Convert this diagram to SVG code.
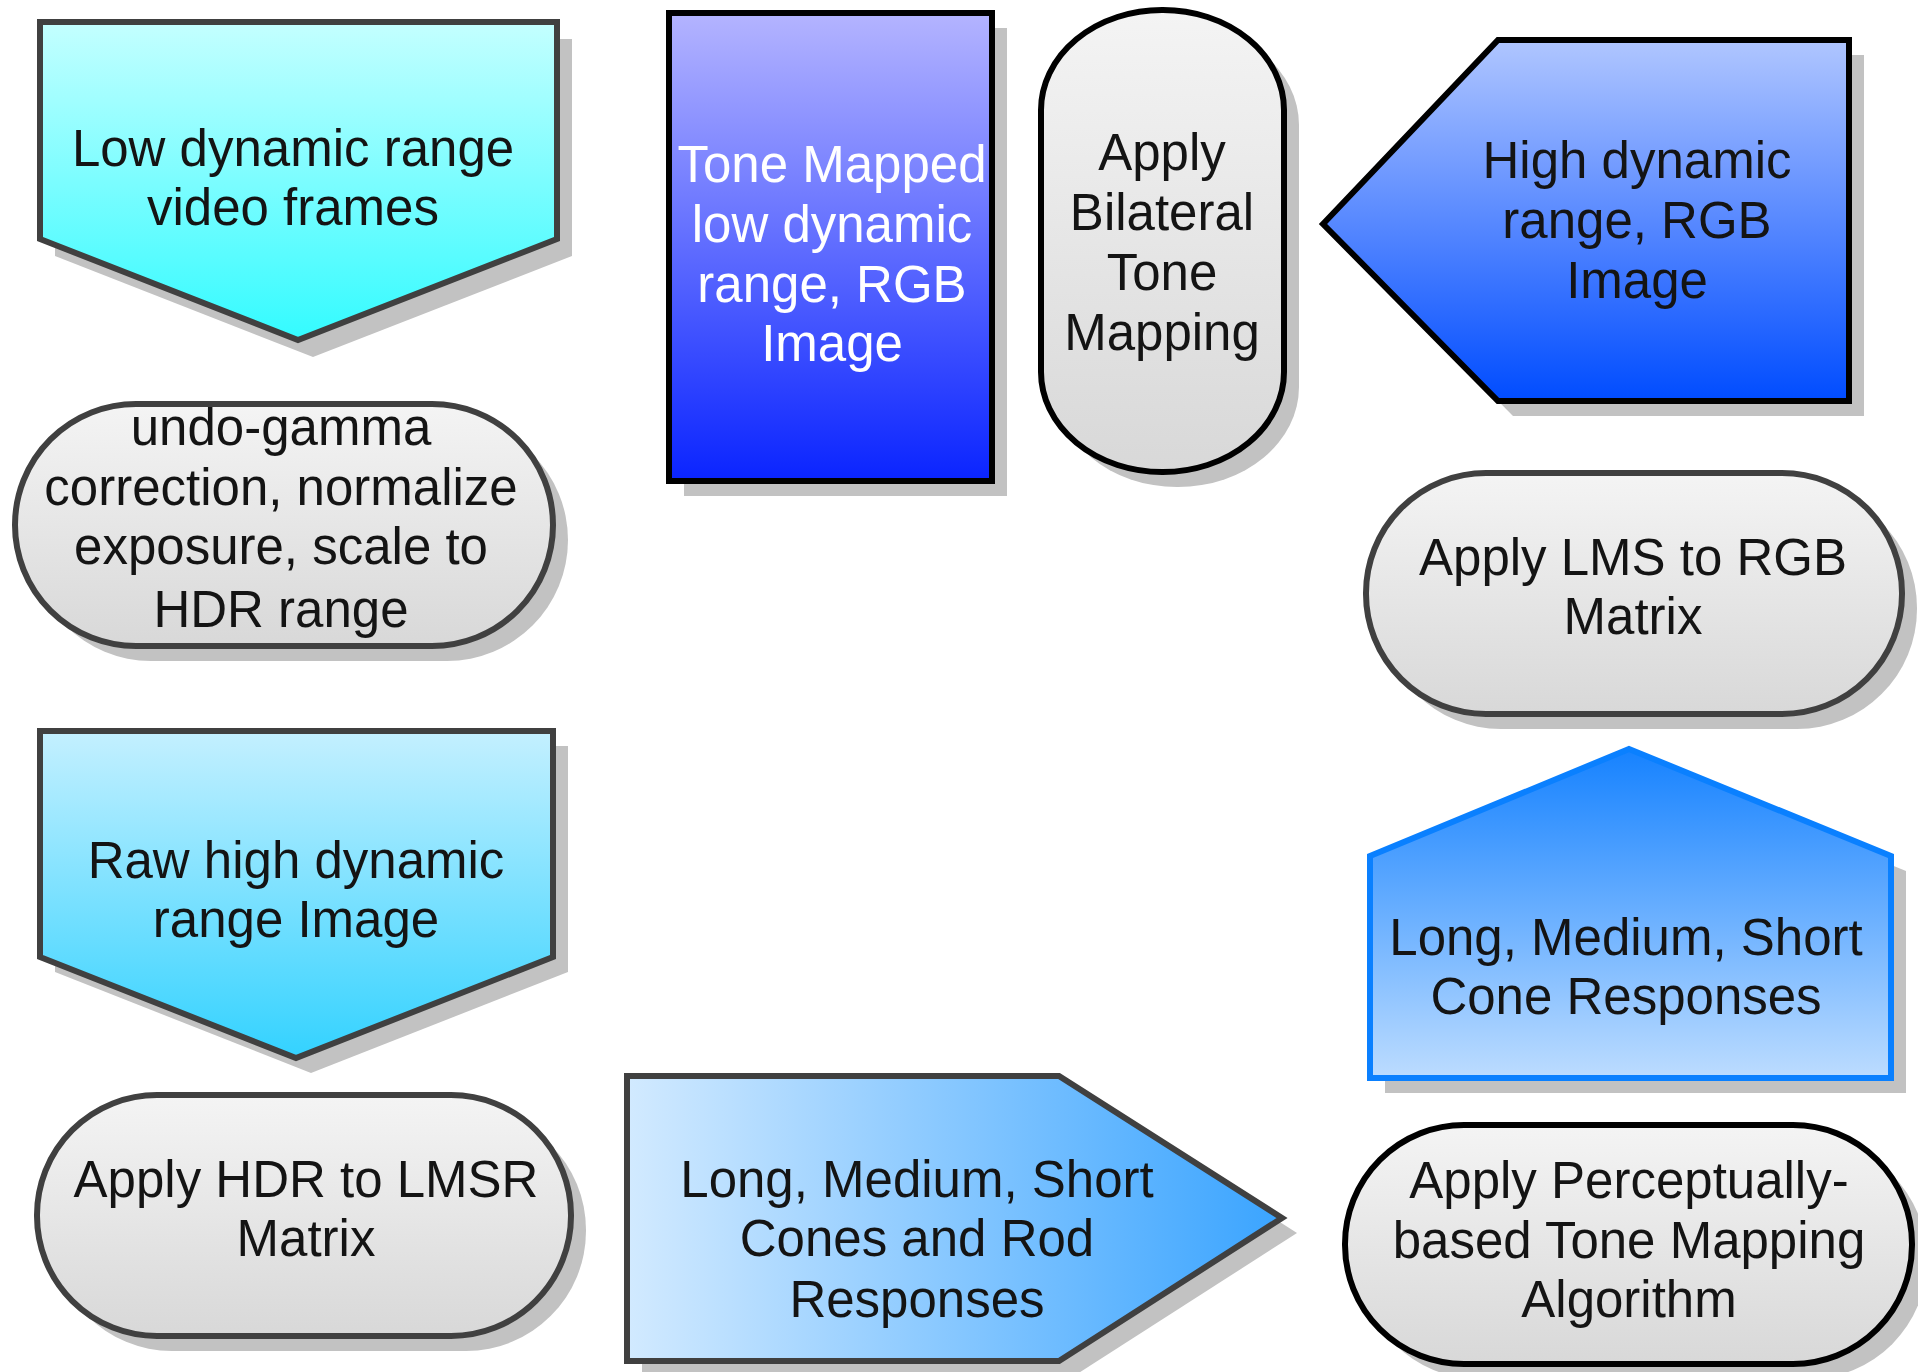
<svg xmlns="http://www.w3.org/2000/svg" width="1918" height="1372" viewBox="0 0 1918 1372">
  <defs>
    <linearGradient id="gCyan" x1="0" y1="0" x2="0" y2="1">
      <stop offset="0" stop-color="#c4ffff"/>
      <stop offset="1" stop-color="#33fbff"/>
    </linearGradient>
    <linearGradient id="gSky" x1="0" y1="0" x2="0" y2="1">
      <stop offset="0" stop-color="#c4f0ff"/>
      <stop offset="1" stop-color="#33d2ff"/>
    </linearGradient>
    <linearGradient id="gViolet" x1="0" y1="0" x2="0" y2="1">
      <stop offset="0" stop-color="#b4b4ff"/>
      <stop offset="1" stop-color="#0a24ff"/>
    </linearGradient>
    <linearGradient id="gBlue" x1="0" y1="0" x2="0" y2="1">
      <stop offset="0" stop-color="#b0c6ff"/>
      <stop offset="1" stop-color="#004cff"/>
    </linearGradient>
    <linearGradient id="gGray" x1="0" y1="0" x2="0" y2="1">
      <stop offset="0" stop-color="#f4f4f4"/>
      <stop offset="1" stop-color="#d8d8d8"/>
    </linearGradient>
    <linearGradient id="gSide" x1="0" y1="0" x2="1" y2="0">
      <stop offset="0" stop-color="#d2eaff"/>
      <stop offset="1" stop-color="#3aa4ff"/>
    </linearGradient>
    <linearGradient id="gUp" x1="0" y1="0" x2="0" y2="1">
      <stop offset="0" stop-color="#1682ff"/>
      <stop offset="1" stop-color="#bcdcff"/>
    </linearGradient>
  </defs>
  <style>
    .shadow { fill: #c2c2c2; }
    .edge { stroke: #404040; stroke-width: 6; stroke-linejoin: miter; }
    .edgeDark { stroke: #000000; stroke-width: 6; stroke-linejoin: miter; }
    .edgeBlue { stroke: #0a80ff; stroke-width: 6; stroke-linejoin: miter; }
    text { font-family: "Liberation Sans", Arial, sans-serif; font-size: 51px; fill: #141414; text-anchor: middle; }
    text.light { fill: #ffffff; }
  </style>

  <rect width="1918" height="1372" fill="#ffffff"/>

  <!-- input: low dynamic range frames -->
  <g id="ldr-frames">
    <path class="shadow" d="M55,39 H572 V256 L313,357 L55,256 Z"/>
    <path class="edge" fill="url(#gCyan)" d="M40,22 H557 V239 L298,340 L40,239 Z"/>
    <text x="293" y="166">Low dynamic range</text>
    <text x="293" y="225">video frames</text>
  </g>

  <g id="undo-gamma">
    <rect class="shadow" x="30" y="419" width="538" height="242" rx="121"/>
    <rect class="edge" fill="url(#gGray)" x="15" y="404" width="538" height="242" rx="121"/>
    <text x="281" y="445">undo-gamma</text>
    <text x="281" y="505">correction, normalize</text>
    <text x="281" y="564">exposure, scale to</text>
    <text x="281" y="627">HDR range</text>
  </g>

  <g id="raw-hdr">
    <path class="shadow" d="M55,746 H568 V972 L311,1073 L55,972 Z"/>
    <path class="edge" fill="url(#gSky)" d="M40,731 H553 V957 L296,1058 L40,957 Z"/>
    <text x="296" y="878">Raw high dynamic</text>
    <text x="296" y="937">range Image</text>
  </g>

  <g id="hdr-to-lmsr">
    <rect class="shadow" x="52" y="1110" width="534" height="241" rx="120"/>
    <rect class="edge" fill="url(#gGray)" x="37" y="1095" width="534" height="241" rx="120"/>
    <text x="306" y="1197">Apply HDR to LMSR</text>
    <text x="306" y="1256">Matrix</text>
  </g>

  <g id="lmsr-responses">
    <path class="shadow" d="M642,1091 H1074 L1297,1233 L1074,1376 H642 Z"/>
    <path class="edge" fill="url(#gSide)" d="M627,1076 H1059 L1282,1218 L1059,1361 H627 Z"/>
    <text x="917" y="1197">Long, Medium, Short</text>
    <text x="917" y="1256">Cones and Rod</text>
    <text x="917" y="1317">Responses</text>
  </g>

  <g id="perceptual-tm">
    <rect class="shadow" x="1360" y="1140" width="567" height="239" rx="119"/>
    <rect class="edgeDark" fill="url(#gGray)" x="1345" y="1125" width="567" height="239" rx="119"/>
    <text x="1629" y="1198">Apply Perceptually-</text>
    <text x="1629" y="1258">based Tone Mapping</text>
    <text x="1629" y="1317">Algorithm</text>
  </g>

  <g id="lms-responses">
    <path class="shadow" d="M1644,764 L1906,871 V1093 H1385 V871 Z"/>
    <path class="edgeBlue" fill="url(#gUp)" d="M1629,749 L1891,856 V1078 H1370 V856 Z"/>
    <text x="1626" y="955">Long, Medium, Short</text>
    <text x="1626" y="1014">Cone Responses</text>
  </g>

  <g id="lms-to-rgb">
    <rect class="shadow" x="1381" y="488" width="536" height="241" rx="120"/>
    <rect class="edge" fill="url(#gGray)" x="1366" y="473" width="536" height="241" rx="120"/>
    <text x="1633" y="575">Apply LMS to RGB</text>
    <text x="1633" y="634">Matrix</text>
  </g>

  <g id="hdr-rgb">
    <path class="shadow" d="M1338,239 L1513,55 H1864 V416 H1513 Z"/>
    <path class="edgeDark" fill="url(#gBlue)" d="M1323,224 L1498,40 H1849 V401 H1498 Z"/>
    <text x="1637" y="178">High dynamic</text>
    <text x="1637" y="238">range, RGB</text>
    <text x="1637" y="298">Image</text>
  </g>

  <g id="bilateral-tm">
    <rect class="shadow" x="1056" y="25" width="243" height="462" rx="121" ry="100"/>
    <rect class="edgeDark" fill="url(#gGray)" x="1041" y="10" width="243" height="462" rx="121" ry="100"/>
    <text x="1162" y="170">Apply</text>
    <text x="1162" y="230">Bilateral</text>
    <text x="1162" y="290">Tone</text>
    <text x="1162" y="350">Mapping</text>
  </g>

  <g id="tone-mapped-ldr">
    <rect class="shadow" x="684" y="28" width="323" height="468"/>
    <rect class="edgeDark" fill="url(#gViolet)" x="669" y="13" width="323" height="468"/>
    <text class="light" x="832" y="182">Tone Mapped</text>
    <text class="light" x="832" y="242">low dynamic</text>
    <text class="light" x="832" y="302">range, RGB</text>
    <text class="light" x="832" y="361">Image</text>
  </g>

  <!-- the flow is implied by the arrow-shaped nodes; no drawn links -->
  <g id="connectors"/>
</svg>
